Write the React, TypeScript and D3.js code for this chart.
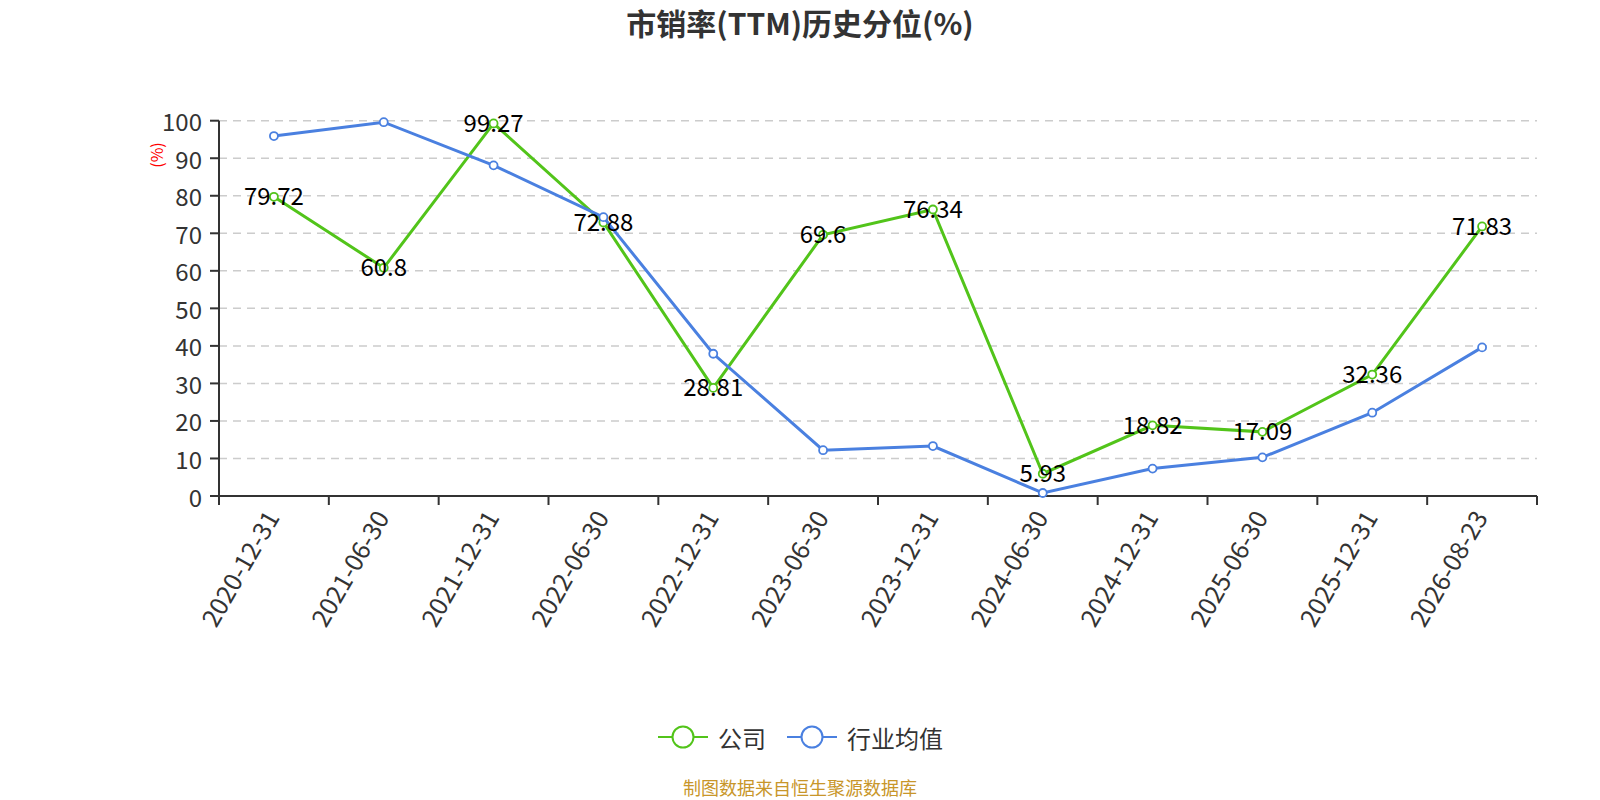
import React from 'react';
import * as d3 from 'd3';

// 报告期
const dates = [
  '2020-12-31', '2021-06-30', '2021-12-31', '2022-06-30', '2022-12-31', '2023-06-30',
  '2023-12-31', '2024-06-30', '2024-12-31', '2025-06-30', '2025-12-31', '2026-08-23',
];
// 公司 市销率(TTM)历史分位
const company = [79.72, 60.8, 99.27, 72.88, 28.81, 69.6, 76.34, 5.93, 18.82, 17.09, 32.36, 71.83];
// 行业均值
const industry = [95.9, 99.6, 88.1, 74.3, 37.9, 12.2, 13.3, 0.8, 7.3, 10.3, 22.2, 39.6];
const yTicks = [0, 10, 20, 30, 40, 50, 60, 70, 80, 90, 100];

const GREEN = '#52c41a';
const BLUE = '#4a80e0';
const FONT = '"Noto Sans CJK SC", "Noto Sans", sans-serif';

export default function App() {
  const width = 1600;
  const height = 800;
  const left = 219;
  const right = 1537;
  const top = 120.7;
  const bottom = 496;

  const x = d3.scaleBand<string>().domain(dates).range([left, right]);
  const cx = (d: string) => (x(d) ?? 0) + x.bandwidth() / 2;
  const y = d3.scaleLinear().domain([0, 100]).range([bottom, top]);

  const line = d3.line<number>()
    .x((_, i) => cx(dates[i]))
    .y(v => y(v));

  const series = [
    { name: '公司', color: GREEN, data: company },
    { name: '行业均值', color: BLUE, data: industry },
  ];

  return (
    <div style={{ position: 'absolute', left: 0, top: 0 }}>
      <svg width={width} height={height} style={{ display: 'block', fontFamily: FONT }}>
        <rect width={width} height={height} fill="#fff" />
        {/* 标题 */}
        <text x={800} y={22} textAnchor="middle" dominantBaseline="central"
          fontSize={30} fontWeight="bold" fill="#333">市销率(TTM)历史分位(%)</text>

        {/* 网格线 */}
        {yTicks.filter(t => t > 0).map(t => (
          <line key={t} x1={left} x2={right} y1={y(t)} y2={y(t)}
            stroke="#ccc" strokeWidth={1.5} strokeDasharray="8,6" />
        ))}

        {/* y 轴 */}
        <line x1={left} x2={left} y1={top} y2={bottom} stroke="#333" strokeWidth={2} />
        {yTicks.map(t => (
          <g key={t}>
            <line x1={left - 9} x2={left} y1={y(t)} y2={y(t)} stroke="#333" strokeWidth={2} />
            <text x={left - 17} y={y(t)} textAnchor="end" dominantBaseline="central"
              fontSize={24} fill="#333">{t}</text>
          </g>
        ))}
        <text transform={`translate(156,155) rotate(-90)`} textAnchor="middle"
          dominantBaseline="central" fontSize={16} fill="red">(%)</text>

        {/* x 轴 */}
        <line x1={left} x2={right} y1={bottom} y2={bottom} stroke="#333" strokeWidth={2} />
        {dates.map(d => (
          <line key={'t' + d} x1={x(d) ?? 0} x2={x(d) ?? 0} y1={bottom} y2={bottom + 9}
            stroke="#333" strokeWidth={2} />
        ))}
        <line x1={right} x2={right} y1={bottom} y2={bottom + 9} stroke="#333" strokeWidth={2} />
        {dates.map(d => (
          <text key={'l' + d} transform={`translate(${cx(d) - 3},${bottom + 16}) rotate(-60)`}
            textAnchor="end" dominantBaseline="central" fontSize={25} fill="#333">{d}</text>
        ))}

        {/* 折线 */}
        {series.map(s => (
          <g key={s.name}>
            <path d={line(s.data) ?? ''} fill="none" stroke={s.color} strokeWidth={3} />
            {s.data.map((v, i) => (
              <circle key={i} cx={cx(dates[i])} cy={y(v)} r={4} fill="#fff"
                stroke={s.color} strokeWidth={1.8} />
            ))}
          </g>
        ))}

        {/* 数据标签 */}
        {company.map((v, i) => (
          <text key={'v' + i} x={cx(dates[i])} y={y(v) - 2} textAnchor="middle"
            dominantBaseline="central" fontSize={24} fill="#000">{v}</text>
        ))}

        {/* 图例 */}
        {series.map((s, i) => {
          const lx = i === 0 ? 658 : 787;
          return (
            <g key={'lg' + s.name}>
              <line x1={lx} x2={lx + 50} y1={737} y2={737} stroke={s.color} strokeWidth={2} />
              <circle cx={lx + 25} cy={737} r={10.5} fill="#fff" stroke={s.color} strokeWidth={2} />
              <text x={lx + 60} y={737} dominantBaseline="central" fontSize={24} fill="#333">{s.name}</text>
            </g>
          );
        })}

        {/* 数据来源 */}
        <text x={800} y={787} textAnchor="middle" dominantBaseline="central"
          fontSize={18} fill="#c8962a">制图数据来自恒生聚源数据库</text>
      </svg>
    </div>
  );
}
